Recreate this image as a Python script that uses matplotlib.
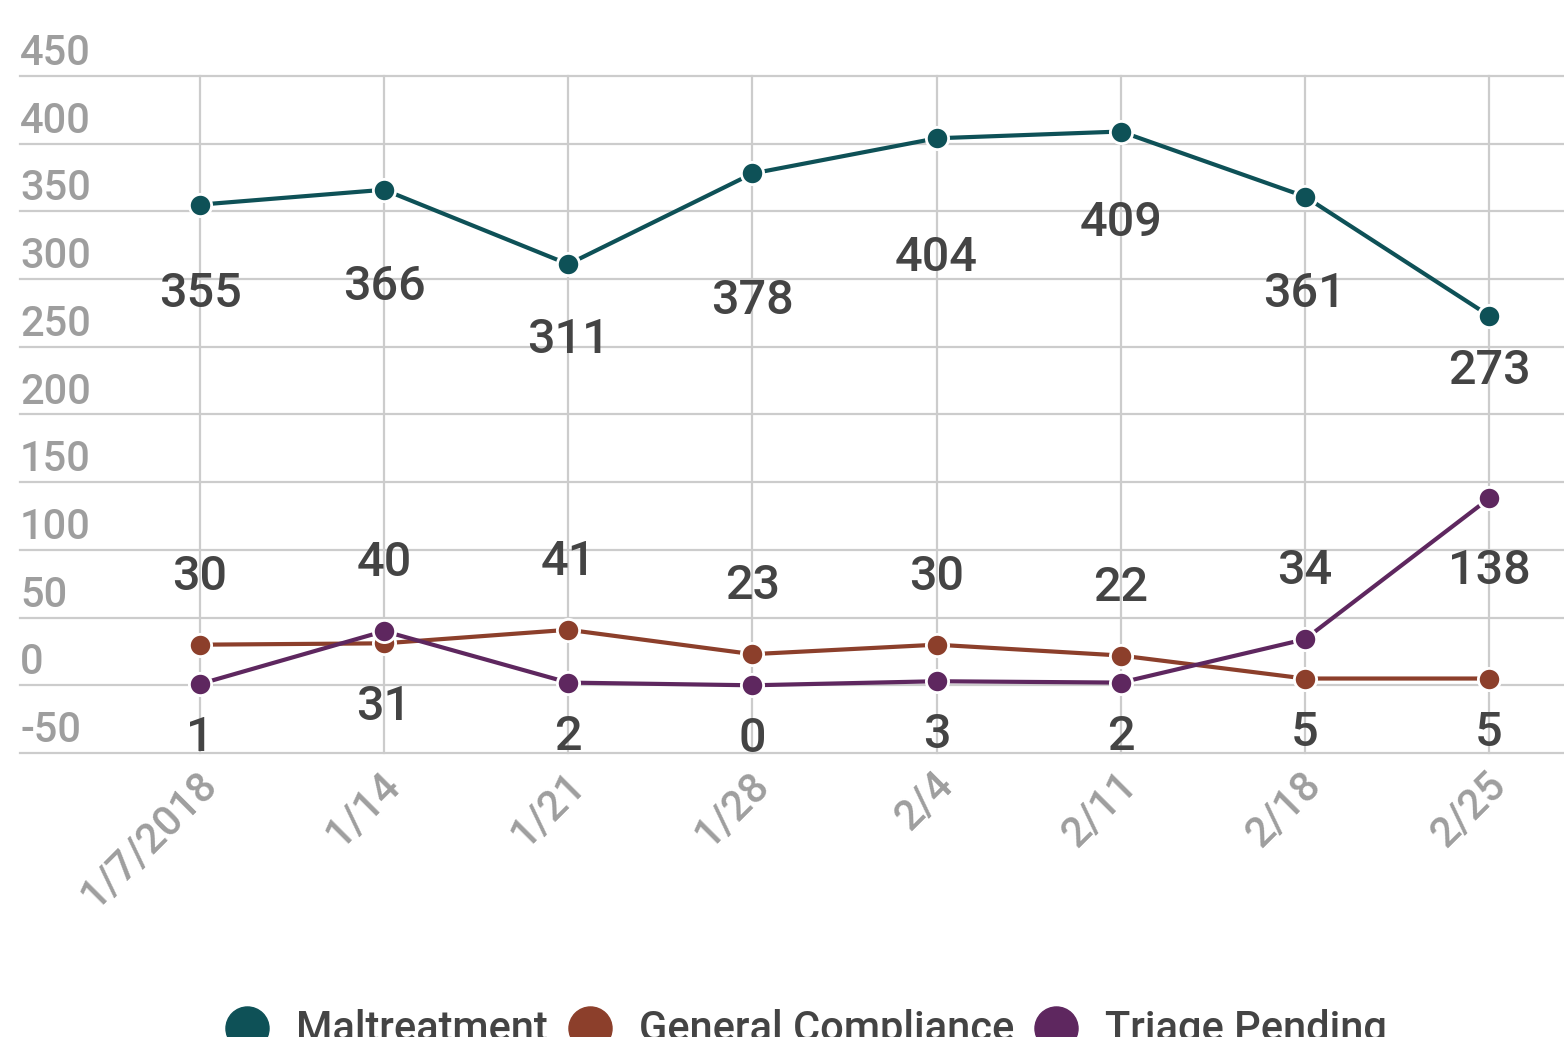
import matplotlib.pyplot as plt
from matplotlib.lines import Line2D
from matplotlib.transforms import ScaledTranslation

# weekly counts
dates = ["1/7/2018", "1/14", "1/21", "1/28", "2/4", "2/11", "2/18", "2/25"]
maltreatment = [355, 366, 311, 378, 404, 409, 361, 273]
compliance = [30, 31, 41, 23, 30, 22, 5, 5]
triage = [1, 40, 2, 0, 3, 2, 34, 138]

series_names = ["Maltreatment", "General Compliance", "Triage Pending"]
colors = ["#0e5157", "#8c3f2b", "#5e275f"]

# how far (px) each maltreatment label sits below its point
malt_gap = [85, 93, 72, 124, 116, 87, 93, 51]

plt.rcParams['font.family'] = ['Roboto', 'DejaVu Sans']

W, H = 1564, 1037
fig = plt.figure(figsize=(W / 100, H / 100), dpi=100)
ax = fig.add_axes([20 / W, (H - 753) / H, 1544 / W, 677 / H])

x = list(range(len(dates)))
ax.set_xlim(-0.9775, 7.407)
ax.set_ylim(-50, 450)
yticks = list(range(-50, 451, 50))
ax.set_yticks(yticks)
ax.set_xticks(x)
ax.grid(True, color="#cccccc", lw=1.6)
ax.set_axisbelow(True)
for gl in ax.get_xgridlines() + ax.get_ygridlines():
    gl.set_clip_on(False)
for s in ax.spines.values():
    s.set_visible(False)
ax.tick_params(length=0, labelleft=False)

# y labels sit above their gridline, flush left
for v in yticks:
    ax.annotate(str(v), xy=(0, v), xycoords=("axes fraction", "data"),
                xytext=(0, 11), textcoords="offset pixels",
                ha="left", va="baseline", fontsize=30, color="#9e9e9e",
                fontweight="medium")

# x labels rotated
ax.set_xticklabels(dates, rotation=45, ha="right", rotation_mode="anchor",
                   fontsize=30, color="#9e9e9e", fontweight="medium")
ax.tick_params(axis="x", pad=8)
for lab in ax.get_xticklabels():
    lab.set_transform(lab.get_transform() + ScaledTranslation(-0.04, 0, fig.dpi_scale_trans))

# lines
for vals, c in zip([maltreatment, compliance, triage], colors):
    ax.plot(x, vals, color=c, lw=3, marker="o", ms=16, mec="white", mew=2,
            zorder=3, clip_on=False)

lab_kw = dict(textcoords="offset pixels", ha="center", va="baseline",
              fontsize=35, color="#444444", fontweight="medium", zorder=4)
half_cap = 17

for i, v in enumerate(maltreatment):
    ax.annotate(str(v), xy=(i, v), xytext=(0, -(malt_gap[i] + half_cap)), **lab_kw)

for i in x:
    lo, hi = sorted([compliance[i], triage[i]])
    if hi > 100:
        ax.annotate(str(hi), xy=(i, hi), xytext=(0, -(69 + half_cap)), **lab_kw)
    else:
        ax.annotate(str(hi), xy=(i, hi), xytext=(0, 72 - half_cap), **lab_kw)
    gap = 60 if lo > 20 else 50
    ax.annotate(str(lo), xy=(i, lo), xytext=(0, -(gap + half_cap)), **lab_kw)

# legend along the bottom edge
legend_x = [247, 590, 1056]
for name, c, cx in zip(series_names, colors, legend_x):
    fig.add_artist(Line2D([cx / W], [1 - 1028 / H], transform=fig.transFigure,
                          marker="o", ms=31, color=c, lw=0))
    fig.text((cx + 49) / W, 1 - 1041 / H, name, fontsize=30, color="#444444",
             ha="left", va="baseline", fontweight="medium")

fig.savefig("out.png", dpi=100)
